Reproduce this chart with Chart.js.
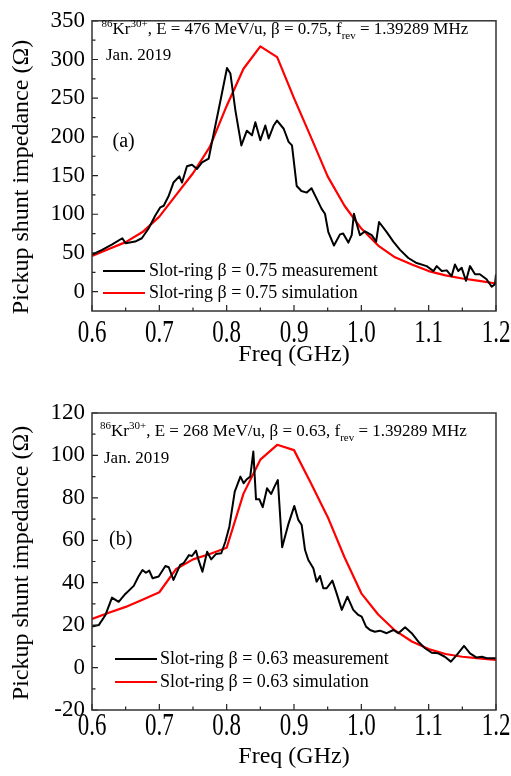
<!DOCTYPE html>
<html>
<head>
<meta charset="utf-8">
<script src="https://cdn.jsdelivr.net/npm/chart.js@4.4.0/dist/chart.umd.min.js"></script>
<style>
  html, body { margin: 0; padding: 0; background: #fff; }
  canvas { display: block; }
</style>
</head>
<body>
<canvas id="chartA" width="511" height="388"></canvas>
<canvas id="chartB" width="511" height="388"></canvas>
<script>
// ---- data ----
const freqTicks = [0.6, 0.7, 0.8, 0.9, 1.0, 1.1, 1.2];
const yTicksA = [0, 50, 100, 150, 200, 250, 300, 350];
const yTicksB = [-20, 0, 20, 40, 60, 80, 100, 120];

// (a) beta = 0.75
const measFreqA = [0.600, 0.615, 0.630, 0.645, 0.650, 0.664, 0.674, 0.684, 0.694, 0.7015, 0.7065, 0.714, 0.721, 0.7297, 0.7337,
  0.741, 0.7485, 0.756, 0.7634, 0.7733, 0.7807, 0.7906, 0.8005, 0.8055, 0.813, 0.8218, 0.830, 0.8376, 0.8426, 0.850,
  0.8574, 0.8624, 0.8698, 0.8748, 0.8847, 0.892, 0.897, 0.904, 0.909, 0.911, 0.919, 0.926, 0.934, 0.941, 0.946,
  0.951, 0.9594, 0.9683, 0.973, 0.9807, 0.9857, 0.989, 0.993, 0.998, 1.0055, 1.0154, 1.022, 1.0263, 1.0377, 1.0475,
  1.0575, 1.0698, 1.0822, 1.097, 1.107, 1.112, 1.1194, 1.1268, 1.134, 1.139, 1.144, 1.149, 1.1555, 1.1614, 1.1688,
  1.176, 1.186, 1.1936, 1.1985, 1.2];
const measValA = [47.8, 54, 61, 69, 62.5, 64.7, 69, 81.6, 98.5, 109, 111, 124, 141, 149, 141,
  162, 164, 158.5, 167, 172, 204, 246, 289, 282, 234, 189, 208, 202, 219, 195.7,
  214.7, 198, 214.7, 221, 210.5, 193.6, 189, 136.6, 132, 130, 128, 133.6, 119.6, 107, 100.6,
  77, 59.6, 74, 75.2, 63.4, 73, 100.6, 88, 73, 78, 73, 64.7, 90, 77, 64.7,
  54, 43.5, 37, 33, 26.6, 33, 26.6, 27.5, 20, 35, 26.6, 30.8, 14, 33, 22.4,
  22.4, 16, 6.3, 9.7, 22.4];
const simFreqA = [0.6, 0.625, 0.65, 0.675, 0.7, 0.725, 0.75, 0.775, 0.8, 0.825, 0.85, 0.875, 0.9, 0.925, 0.95,
  0.975, 1.0, 1.025, 1.05, 1.075, 1.1, 1.125, 1.15, 1.175, 1.2];
const simValA = [46, 55, 64, 77, 97, 125, 153, 187, 240, 288, 317, 303, 250, 200, 149,
  111, 81.5, 59.6, 44.4, 35, 26.6, 21, 17, 14, 10.5];

// (b) beta = 0.63
const measFreqB = [0.600, 0.610, 0.620, 0.6297, 0.6396, 0.6495, 0.662, 0.669, 0.675, 0.680, 0.685, 0.690, 0.699, 0.709, 0.714,
  0.721, 0.731, 0.736, 0.744, 0.7485, 0.7545, 0.7585, 0.764, 0.771, 0.777, 0.784, 0.792, 0.798, 0.804, 0.812,
  0.8204, 0.8253, 0.830, 0.835, 0.8396, 0.8436, 0.8486, 0.8535, 0.860, 0.866, 0.871, 0.876, 0.8824, 0.892, 0.9005,
  0.9064, 0.9114, 0.9164, 0.9213, 0.9287, 0.9336, 0.9386, 0.9435, 0.9485, 0.957, 0.9633, 0.971, 0.9793, 0.988, 0.9955,
  1.0005, 1.007, 1.013, 1.020, 1.0277, 1.0377, 1.0476, 1.055, 1.065, 1.0748, 1.0847, 1.0946, 1.1045, 1.1143, 1.124,
  1.133, 1.1416, 1.1525, 1.1614, 1.1713, 1.179, 1.1862, 1.2];
const measValB = [19.3, 20, 24.8, 33, 31, 34.7, 38.5, 42.9, 46, 44.7, 45.7, 42.1, 42.9, 47.9, 47.3,
  41.3, 48.4, 49.2, 53, 52.6, 55.1, 50.4, 45.2, 54.6, 51, 53.5, 53.9, 59.3, 66.4, 82.9,
  90, 86.9, 88.8, 90, 101.8, 79.3, 79.3, 75.6, 84.5, 81.8, 85.3, 88.4, 56.7, 68, 76.2,
  69.6, 67.2, 55.4, 50.7, 46.8, 40.5, 43.2, 37.4, 37.4, 41, 35, 27.2, 33.4, 27.2, 24.8,
  24, 19.3, 17.7, 16.9, 17.4, 16.2, 17.7, 16.2, 19, 16.2, 12.2, 9.1, 7, 6.7, 5.1,
  2.8, 5.9, 10.2, 6.7, 4.7, 5.1, 4.4, 4.4];
const simFreqB = [0.6, 0.625, 0.65, 0.675, 0.7, 0.725, 0.75, 0.775, 0.8, 0.825, 0.85, 0.875, 0.9, 0.925, 0.95,
  0.975, 1.0, 1.025, 1.05, 1.075, 1.1, 1.125, 1.15, 1.175, 1.2];
const simValB = [22.9, 25.8, 28.6, 32, 35.5, 46.5, 51, 53.5, 56.5, 82, 98, 105, 102.5, 87, 71,
  52, 35, 25, 17.5, 12.3, 8.7, 6.4, 5.1, 4.3, 3.6];

const SERIF = '"Liberation Serif", "Times New Roman", serif';

function pts(xs, ys) {
  return xs.map((x, i) => ({ x, y: ys[i] }));
}

// frame, inward ticks, stretched x labels, titles, annotation and legend
const panelPlugin = {
  id: 'panel',
  afterDraw(chart, args, o) {
    const { ctx, chartArea: a, scales: { x, y } } = chart;
    ctx.save();

    // ticks (inward)
    ctx.strokeStyle = '#222';
    ctx.lineWidth = 1.2;
    ctx.beginPath();
    for (let i = 0; i < freqTicks.length; i++) {
      const px = x.getPixelForValue(freqTicks[i]);
      ctx.moveTo(px, a.bottom); ctx.lineTo(px, a.bottom - 6);
      if (i < freqTicks.length - 1) {
        const pm = x.getPixelForValue((freqTicks[i] + freqTicks[i + 1]) / 2);
        ctx.moveTo(pm, a.bottom); ctx.lineTo(pm, a.bottom - 3.5);
      }
    }
    const yt = o.yTicks;
    for (let i = 0; i < yt.length; i++) {
      const py = y.getPixelForValue(yt[i]);
      ctx.moveTo(a.left, py); ctx.lineTo(a.left + 6, py);
      if (i < yt.length - 1) {
        const pm = y.getPixelForValue((yt[i] + yt[i + 1]) / 2);
        ctx.moveTo(a.left, pm); ctx.lineTo(a.left + 3.5, pm);
      }
    }
    ctx.stroke();

    // frame
    ctx.strokeStyle = '#333';
    ctx.lineWidth = 1.5;
    ctx.strokeRect(a.left, a.top, a.right - a.left, a.bottom - a.top);

    ctx.fillStyle = '#000';
    // x tick labels (tall, as in the original)
    ctx.font = '23px ' + SERIF;
    ctx.textAlign = 'center';
    ctx.textBaseline = 'alphabetic';
    freqTicks.forEach(v => {
      ctx.save();
      ctx.translate(x.getPixelForValue(v), o.xLabelBase);
      ctx.scale(1, 1.4);
      ctx.fillText(v.toFixed(1), 0, 0);
      ctx.restore();
    });

    // axis titles
    ctx.font = '24px ' + SERIF;
    ctx.textBaseline = 'middle';
    ctx.fillText('Freq (GHz)', (a.left + a.right) / 2, o.xTitleY);
    ctx.save();
    ctx.translate(22, o.yTitleY);
    ctx.rotate(-Math.PI / 2);
    ctx.fillText('Pickup shunt impedance (\u03A9)', 0, 0);
    ctx.restore();

    // annotation line with super/subscripts
    ctx.textAlign = 'left';
    ctx.textBaseline = 'alphabetic';
    let cx = o.noteX;
    const parts = [
      ['86', 'sup'], ['Kr', 'n'], ['30+', 'sup'],
      [', E = ' + o.energy + ' MeV/u, \u03B2 = ' + o.beta + ', f', 'n'],
      ['rev', 'sub'], [' = 1.39289 MHz', 'n']
    ];
    parts.forEach(([t, m]) => {
      let dy = 0;
      if (m === 'n') ctx.font = '17px ' + SERIF;
      else { ctx.font = '11px ' + SERIF; dy = m === 'sup' ? -7 : 5; }
      ctx.fillText(t, cx, o.noteY + dy);
      cx += ctx.measureText(t).width;
    });
    ctx.font = '17px ' + SERIF;
    ctx.fillText('Jan. 2019', o.dateX, o.dateY);
    ctx.font = '20px ' + SERIF;
    ctx.fillText(o.tag, o.tagX, o.tagY);

    // legend
    ctx.font = '18px ' + SERIF;
    ctx.textBaseline = 'middle';
    chart.data.datasets.forEach((ds, i) => {
      const ly = o.legendY[i];
      ctx.strokeStyle = ds.borderColor;
      ctx.lineWidth = 2;
      ctx.beginPath();
      ctx.moveTo(o.legendX[0], ly); ctx.lineTo(o.legendX[1], ly);
      ctx.stroke();
      ctx.fillText(ds.label, o.legendX[2], ly);
    });

    ctx.restore();
  }
};

function makePanel(id, cfg) {
  return new Chart(document.getElementById(id), {
    type: 'line',
    data: {
      datasets: [
        { label: 'Slot-ring \u03B2 = ' + cfg.beta + ' measurement', data: pts(cfg.mx, cfg.my),
          borderColor: '#000000', borderWidth: 2 },
        { label: 'Slot-ring \u03B2 = ' + cfg.beta + ' simulation', data: pts(cfg.sx, cfg.sy),
          borderColor: '#ff0000', borderWidth: 2.2 }
      ]
    },
    options: {
      responsive: false,
      animation: false,
      layout: { padding: { left: 0, right: 15, top: cfg.top, bottom: 0 } },
      elements: { point: { radius: 0 }, line: { tension: 0, borderJoinStyle: 'round' } },
      plugins: {
        legend: { display: false },
        tooltip: { enabled: false },
        panel: cfg.panel
      },
      scales: {
        x: {
          type: 'linear', min: 0.6, max: 1.2,
          grid: { display: false }, border: { display: false },
          ticks: { display: false },
          afterFit: s => { s.height = cfg.bottom; }
        },
        y: {
          type: 'linear', min: cfg.ymin, max: cfg.ymax,
          grid: { display: false, drawTicks: false }, border: { display: false },
          afterBuildTicks: s => { s.ticks = cfg.panel.yTicks.map(v => ({ value: v })); },
          ticks: { color: '#000', padding: 7, font: { family: SERIF, size: 23 } },
          afterFit: s => { s.width = 92; }
        }
      }
    },
    plugins: [panelPlugin]
  });
}

makePanel('chartA', {
  beta: '0.75', mx: measFreqA, my: measValA, sx: simFreqA, sy: simValA,
  ymin: -25, ymax: 350, top: 14, bottom: 77,
  panel: {
    yTicks: yTicksA, energy: '476', beta: '0.75', tag: '(a)',
    xLabelBase: 342, xTitleY: 355, yTitleY: 177,
    noteX: 101.5, noteY: 34, dateX: 106, dateY: 60, tagX: 112.5, tagY: 147,
    legendY: [271, 293], legendX: [103, 145, 149]
  }
});

makePanel('chartB', {
  beta: '0.63', mx: measFreqB, my: measValB, sx: simFreqB, sy: simValB,
  ymin: -20, ymax: 120, top: 25, bottom: 66,
  panel: {
    yTicks: yTicksB, energy: '268', beta: '0.63', tag: '(b)',
    xLabelBase: 347, xTitleY: 369, yTitleY: 175,
    noteX: 100, noteY: 47.5, dateX: 104, dateY: 74.5, tagX: 109, tagY: 157,
    legendY: [271, 294], legendX: [115, 157, 160]
  }
});
</script>
</body>
</html>
